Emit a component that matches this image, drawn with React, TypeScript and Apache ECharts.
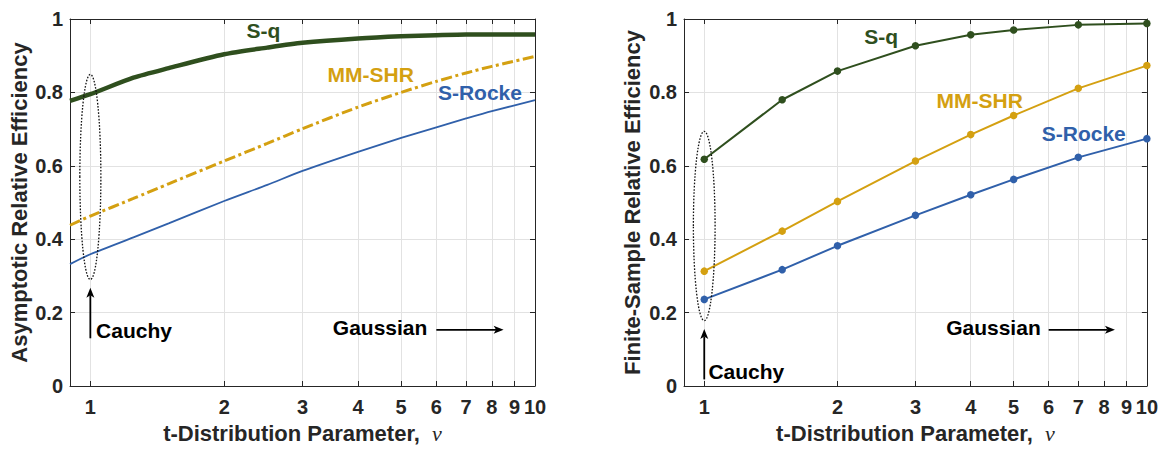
import React, { useEffect, useRef } from "react";
import * as echarts from "echarts";

// ---------- data ----------
const tickNu = [1, 2, 3, 4, 5, 6, 7, 8, 9, 10];
const nuMin = 0.9;
const nuMax = 10;

// Asymptotic relative efficiency (left panel)
const asymNu = [0.9, 1, 1.25, 1.5, 2, 2.5, 3, 4, 5, 6, 7, 8, 10];
const asymSq = [0.777, 0.795, 0.84, 0.866, 0.904, 0.922, 0.935, 0.947, 0.953, 0.956, 0.958, 0.958, 0.958];
const asymMM = [0.438, 0.463, 0.511, 0.551, 0.613, 0.661, 0.701, 0.76, 0.8, 0.83, 0.853, 0.871, 0.898];
const asymSR = [0.332, 0.359, 0.405, 0.443, 0.504, 0.548, 0.586, 0.638, 0.676, 0.705, 0.729, 0.749, 0.779];

// Finite-sample relative efficiency (right panel)
const finNu = [1, 1.5, 2, 3, 4, 5, 7, 10];
const finSq = [0.618, 0.78, 0.858, 0.927, 0.957, 0.97, 0.984, 0.988];
const finMM = [0.313, 0.422, 0.503, 0.613, 0.685, 0.737, 0.811, 0.873];
const finSR = [0.236, 0.317, 0.382, 0.465, 0.521, 0.563, 0.623, 0.674];

const seriesNames = ["S-q", "MM-SHR", "S-Rocke"];
const xTitle = "t-Distribution Parameter,  {nu|ν}";
const yTitleLeft = "Asymptotic Relative Efficiency";
const yTitleRight = "Finite-Sample Relative Efficiency";

// ---------- styles ----------
const FONT = '"Liberation Sans", Arial, Helvetica, sans-serif';
const AXIS_COLOR = "#262626";
const GRID_COLOR = "#e2e2e2";
const GREEN = "#2f4f1e";
const GOLD = "#d4a011";
const BLUE = "#3060aa";
const TICK_FS = 20;
const TITLE_FS = 22;
const NOTE_FS = 21;

// annotation placement (data coordinates)
const leftNotes = {
  labels: [
    { text: seriesNames[0], nu: 2.45, v: 0.968, color: GREEN },
    { text: seriesNames[1], nu: 4.27, v: 0.849, color: GOLD },
    { text: seriesNames[2], nu: 7.52, v: 0.8, color: BLUE },
  ],
  ellipse: { nu0: 0.947, nu1: 1.056, v0: 0.29, v1: 0.849 },
  cauchyArrow: { nu: 1, v0: 0.13, v1: 0.268 },
  cauchyText: { nu: 1.03, v: 0.15 },
  gaussText: { nu: 3.51, v: 0.16 },
  gaussArrow: { nu0: 6.0, nu1: 8.5, v: 0.153 },
};
const rightNotes = {
  labels: [
    { text: seriesNames[0], nu: 2.51, v: 0.952, color: GREEN },
    { text: seriesNames[1], nu: 4.19, v: 0.777, color: GOLD },
    { text: seriesNames[2], nu: 7.2, v: 0.687, color: BLUE },
  ],
  ellipse: { nu0: 0.945, nu1: 1.058, v0: 0.178, v1: 0.694 },
  cauchyArrow: { nu: 1, v0: 0.018, v1: 0.155 },
  cauchyText: { nu: 1.022, v: 0.04 },
  gaussText: { nu: 3.52, v: 0.16 },
  gaussArrow: { nu0: 6.0, nu1: 8.47, v: 0.153 },
};

const lg = (v: number) => Math.log10(v);
const tickLog = tickNu.map(lg);
const toPairs = (xs: number[], ys: number[]) => xs.map((x, i) => [lg(x), ys[i]]);

function arrow(p0: number[], p1: number[]) {
  const dx = p1[0] - p0[0];
  const dy = p1[1] - p0[1];
  const L = Math.hypot(dx, dy);
  const ux = dx / L;
  const uy = dy / L;
  const nx = -uy;
  const ny = ux;
  const len = 10;
  const hw = 4;
  const notch = 2.5;
  const back = [p1[0] - ux * len, p1[1] - uy * len];
  const np = [p1[0] - ux * (len - notch), p1[1] - uy * (len - notch)];
  return [
    {
      type: "line",
      shape: { x1: p0[0], y1: p0[1], x2: np[0], y2: np[1] },
      style: { stroke: "#000", lineWidth: 1.8 },
    },
    {
      type: "polygon",
      shape: {
        points: [
          [p1[0], p1[1]],
          [back[0] + nx * hw, back[1] + ny * hw],
          np,
          [back[0] - nx * hw, back[1] - ny * hw],
        ],
      },
      style: { fill: "#000" },
    },
  ];
}

function makeNotes(notes: any) {
  return (_params: any, api: any) => {
    const P = (nu: number, v: number) => api.coord([lg(nu), v]);
    const children: any[] = [];
    const e = notes.ellipse;
    const a = P(e.nu0, e.v1);
    const b = P(e.nu1, e.v0);
    children.push({
      type: "ellipse",
      shape: {
        cx: (a[0] + b[0]) / 2,
        cy: (a[1] + b[1]) / 2,
        rx: Math.abs(b[0] - a[0]) / 2,
        ry: Math.abs(b[1] - a[1]) / 2,
      },
      style: { fill: "none", stroke: "#111", lineWidth: 1.3, lineDash: [1.6, 1.6] },
    });
    const ca = notes.cauchyArrow;
    children.push(...arrow(P(ca.nu, ca.v0), P(ca.nu, ca.v1)));
    const ga = notes.gaussArrow;
    children.push(...arrow(P(ga.nu0, ga.v), P(ga.nu1, ga.v)));
    const ct = P(notes.cauchyText.nu, notes.cauchyText.v);
    children.push({
      type: "text",
      x: ct[0],
      y: ct[1],
      style: { text: "Cauchy", fill: "#000", font: `bold ${NOTE_FS}px ${FONT}`, align: "left", verticalAlign: "middle" },
    });
    const gt = P(notes.gaussText.nu, notes.gaussText.v);
    children.push({
      type: "text",
      x: gt[0],
      y: gt[1],
      style: { text: "Gaussian", fill: "#000", font: `bold ${NOTE_FS}px ${FONT}`, align: "left", verticalAlign: "middle" },
    });
    notes.labels.forEach((l: any) => {
      const p = P(l.nu, l.v);
      children.push({
        type: "text",
        x: p[0],
        y: p[1],
        style: { text: l.text, fill: l.color, font: `bold ${NOTE_FS}px ${FONT}`, align: "center", verticalAlign: "middle" },
      });
    });
    return { type: "group", children };
  };
}

function xAxes(gridIndex: number) {
  const common = {
    type: "value",
    gridIndex,
    min: lg(nuMin),
    max: lg(nuMax),
  };
  return [
    {
      ...common,
      position: "bottom",
      axisLine: { show: true, onZero: false, lineStyle: { color: AXIS_COLOR, width: 1 } },
      axisTick: { show: true, inside: true, length: 5, customValues: tickLog, lineStyle: { color: AXIS_COLOR } },
      axisLabel: {
        show: true,
        customValues: tickLog,
        formatter: (v: number) => String(Math.round(Math.pow(10, v))),
        color: AXIS_COLOR,
        fontSize: TICK_FS,
        fontWeight: "bold",
        fontFamily: FONT,
        margin: 11,
      },
      splitLine: { show: true, lineStyle: { color: GRID_COLOR, width: 1 } },
      name: xTitle,
      nameLocation: "middle",
      nameGap: 36,
      nameTextStyle: {
        color: AXIS_COLOR,
        fontSize: TITLE_FS,
        fontWeight: "bold",
        fontFamily: FONT,
        rich: {
          nu: {
            fontFamily: '"Liberation Serif", "DejaVu Serif", serif',
            fontStyle: "italic",
            fontWeight: "normal",
            fontSize: TITLE_FS,
            color: AXIS_COLOR,
          },
        },
      },
    },
    {
      ...common,
      position: "top",
      axisLine: { show: true, onZero: false, lineStyle: { color: AXIS_COLOR, width: 1 } },
      axisTick: { show: true, inside: true, length: 5, customValues: tickLog, lineStyle: { color: AXIS_COLOR } },
      axisLabel: { show: false },
      splitLine: { show: false },
    },
  ];
}

function yAxes(gridIndex: number, title: string, gap: number) {
  const common = { type: "value", gridIndex, min: 0, max: 1, interval: 0.2 };
  return [
    {
      ...common,
      position: "left",
      axisLine: { show: true, onZero: false, lineStyle: { color: AXIS_COLOR, width: 1 } },
      axisTick: { show: true, inside: true, length: 5, lineStyle: { color: AXIS_COLOR } },
      axisLabel: { color: AXIS_COLOR, fontSize: TICK_FS, fontWeight: "bold", fontFamily: FONT, margin: 7 },
      splitLine: { show: true, lineStyle: { color: GRID_COLOR, width: 1 } },
      name: title,
      nameLocation: "middle",
      nameGap: gap,
      nameTextStyle: { color: AXIS_COLOR, fontSize: TITLE_FS, fontWeight: "bold", fontFamily: FONT },
    },
    {
      ...common,
      position: "right",
      axisLine: { show: true, onZero: false, lineStyle: { color: AXIS_COLOR, width: 1 } },
      axisTick: { show: true, inside: true, length: 5, lineStyle: { color: AXIS_COLOR } },
      axisLabel: { show: false },
      splitLine: { show: false },
    },
  ];
}

export default function App() {
  const ref = useRef<HTMLDivElement>(null);
  useEffect(() => {
    if (!ref.current) return;
    const chart = echarts.init(ref.current, null, { renderer: "svg" });
    const option: any = {
      animation: false,
      backgroundColor: "#fff",
      grid: [
        { left: 70, top: 19, width: 465, height: 371 },
        { left: 684, top: 19, width: 465, height: 371 },
      ],
      xAxis: [...xAxes(0), ...xAxes(1)],
      yAxis: [...yAxes(0, yTitleLeft, 40), ...yAxes(1, yTitleRight, 41)],
      series: [
        {
          name: seriesNames[0],
          type: "line",
          xAxisIndex: 0,
          yAxisIndex: 0,
          data: toPairs(asymNu, asymSq),
          showSymbol: false,
          smooth: 0.25,
          lineStyle: { color: GREEN, width: 4.5 },
          z: 5,
        },
        {
          name: seriesNames[1],
          type: "line",
          xAxisIndex: 0,
          yAxisIndex: 0,
          data: toPairs(asymNu, asymMM),
          showSymbol: false,
          smooth: 0.25,
          lineStyle: { color: GOLD, width: 3, type: [11, 3.5, 3, 3.5] },
          z: 4,
        },
        {
          name: seriesNames[2],
          type: "line",
          xAxisIndex: 0,
          yAxisIndex: 0,
          data: toPairs(asymNu, asymSR),
          showSymbol: false,
          smooth: 0.25,
          lineStyle: { color: BLUE, width: 1.8 },
          z: 4,
        },
        ...[
          [finSq, GREEN],
          [finMM, GOLD],
          [finSR, BLUE],
        ].map(([vals, color], i) => ({
          name: seriesNames[i],
          type: "line",
          xAxisIndex: 2,
          yAxisIndex: 2,
          data: toPairs(finNu, vals as number[]),
          symbol: "circle",
          symbolSize: 7.5,
          showSymbol: true,
          itemStyle: { color: color as string },
          lineStyle: { color: color as string, width: 2 },
          z: 4,
        })),
        {
          type: "custom",
          xAxisIndex: 0,
          yAxisIndex: 0,
          data: [[0, 0.5]],
          renderItem: makeNotes(leftNotes),
          silent: true,
          clip: false,
          z: 10,
        },
        {
          type: "custom",
          xAxisIndex: 2,
          yAxisIndex: 2,
          data: [[0, 0.5]],
          renderItem: makeNotes(rightNotes),
          silent: true,
          clip: false,
          z: 10,
        },
      ],
    };
    chart.setOption(option);
    return () => chart.dispose();
  }, []);
  return (
    <div
      ref={ref}
      style={{ position: "fixed", left: 0, top: 0, width: 1161, height: 449, background: "#fff" }}
    />
  );
}
